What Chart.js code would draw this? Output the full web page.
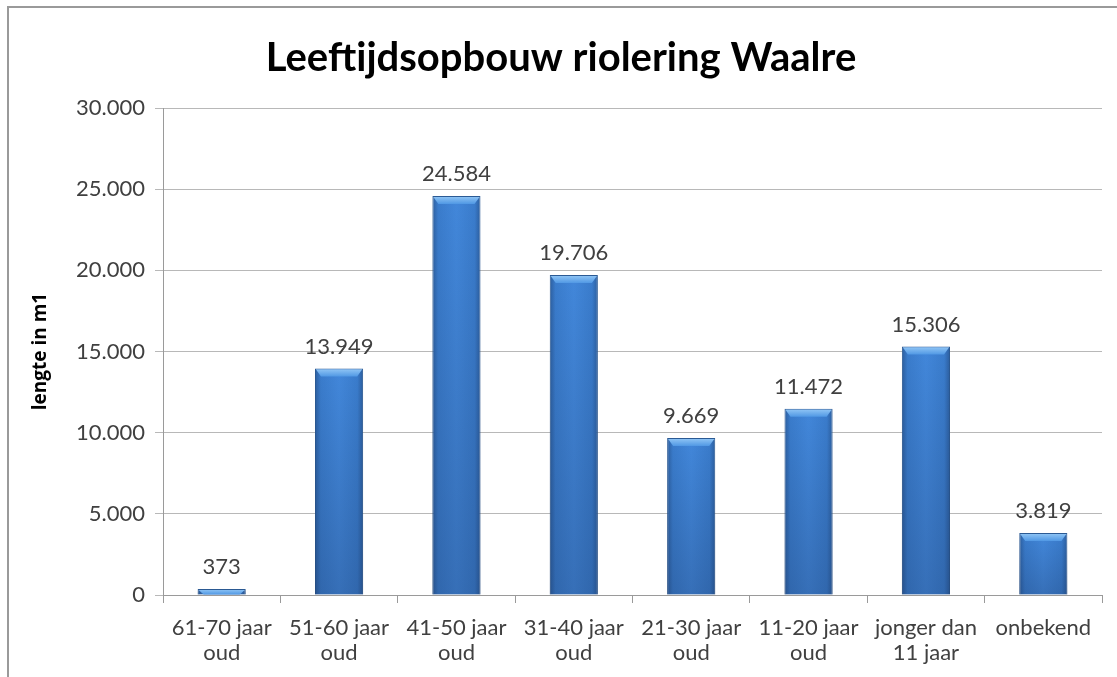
<!DOCTYPE html>
<html>
<head>
<meta charset="utf-8">
<title>Leeftijdsopbouw riolering Waalre</title>
<script src="https://cdn.jsdelivr.net/npm/chart.js@4.4.0/dist/chart.umd.min.js"></script>
<style>
  html,body{margin:0;padding:0;background:#fff;overflow:hidden;}
  #frame{position:absolute;left:7px;top:6px;width:1130px;height:690px;border-top:2px solid #9a9a9a;border-left:2px solid #9a9a9a;}
  #wrap{position:absolute;left:0;top:0;width:1117px;height:677px;}
</style>
</head>
<body>
<div id="frame"></div>
<div id="wrap"><canvas id="ageChart" width="1117" height="677"></canvas></div>
<script>
/* ========= DATA ========= */
const CATEGORIES = [
  ["61-70 jaar","oud"],
  ["51-60 jaar","oud"],
  ["41-50 jaar","oud"],
  ["31-40 jaar","oud"],
  ["21-30 jaar","oud"],
  ["11-20 jaar","oud"],
  ["jonger dan","11 jaar"],
  "onbekend"
];
const LENGTHS = [373, 13949, 24584, 19706, 9669, 11472, 15306, 3819];
const Y_TICKS = [0, 5000, 10000, 15000, 20000, 25000, 30000];

const TITLE  = "Leeftijdsopbouw riolering Waalre";
const Y_NAME = "lengte in m1";

/* ========= HELPERS ========= */
// dutch thousands separator: 13949 -> 13.949
function nl(n){ return String(n).replace(/\B(?=(\d{3})+(?!\d))/g, "."); }

const FONT = "Lato, 'Open Sans', sans-serif";

/* ========= BAR LOOK (excel style shading + value labels) ========= */
const barLook = {
  id: "barLook",
  beforeDatasetsDraw(chart){
    const ctx = chart.ctx;
    chart.getDatasetMeta(0).data.forEach(bar => {
      const {x, width} = bar.getProps(["x","width"], true);
      const g = ctx.createLinearGradient(x - width/2, 0, x + width/2, 0);
      g.addColorStop(0,    "#2c5e9e");
      g.addColorStop(0.12, "#3a7ccc");
      g.addColorStop(0.5,  "#4287da");
      g.addColorStop(0.88, "#3a7ccc");
      g.addColorStop(1,    "#2c5e9e");
      bar.options.backgroundColor = g;
    });
  },
  afterDatasetsDraw(chart){
    const ctx = chart.ctx;
    const meta = chart.getDatasetMeta(0);
    ctx.save();
    meta.data.forEach((bar, i) => {
      const {x, y, base, width} = bar.getProps(["x","y","base","width"], true);
      const l = x - width/2, r = x + width/2, h = base - y;

      // darker towards the bottom
      const v = ctx.createLinearGradient(0, y, 0, base);
      v.addColorStop(0, "rgba(20,40,80,0)");
      v.addColorStop(1, "rgba(20,40,80,0.25)");
      ctx.fillStyle = v;
      ctx.fillRect(l, y, width, h);

      // bevelled light cap
      const cap = Math.min(8, h);
      const c = ctx.createLinearGradient(0, y, 0, y + cap);
      c.addColorStop(0, "#94c8f6");
      c.addColorStop(1, "#5098e4");
      ctx.fillStyle = c;
      ctx.beginPath();
      ctx.moveTo(l + 1, y + 1);
      ctx.lineTo(r - 1, y + 1);
      ctx.lineTo(r - 1 - Math.min(5, width/4), y + cap);
      ctx.lineTo(l + 1 + Math.min(5, width/4), y + cap);
      ctx.closePath();
      ctx.fill();

      // value label
      ctx.fillStyle = "#404040";
      ctx.font = "22px " + FONT;
      ctx.textAlign = "center";
      ctx.textBaseline = "alphabetic";
      ctx.fillText(nl(LENGTHS[i]), x, y - 15);
    });
    ctx.restore();
  }
};

/* ========= CHART ========= */
new Chart(document.getElementById("ageChart"), {
  type: "bar",
  data: {
    labels: CATEGORIES,
    datasets: [{
      data: LENGTHS,
      // scriptable so every bar keeps its own options object
      backgroundColor: () => "#3a7acb",
      borderColor: "#2b5a94",
      borderWidth: 1,
      categoryPercentage: 1,
      barPercentage: 0.41
    }]
  },
  options: {
    responsive: false,
    animation: false,
    layout: { padding: { left: 20, right: 15, top: 0, bottom: 10 } },
    plugins: {
      legend: { display: false },
      tooltip: { enabled: false },
      title: {
        display: true,
        text: TITLE,
        color: "#000",
        font: { family: FONT, size: 40, weight: "bold" },
        padding: { top: 34, bottom: 26 }
      }
    },
    scales: {
      x: {
        grid: { offset: true, drawOnChartArea: false, tickLength: 8, color: "#9a9a9a" },
        border: { color: "#9a9a9a" },
        ticks: {
          color: "#404040",
          font: { family: FONT, size: 22, lineHeight: 1.15 },
          padding: 12,
          maxRotation: 0,
          autoSkip: false
        },
        afterFit: s => { s.height = 72; }
      },
      y: {
        min: Y_TICKS[0],
        max: Y_TICKS[Y_TICKS.length - 1],
        afterBuildTicks: s => { s.ticks = Y_TICKS.map(v => ({ value: v })); },
        grid: { color: "#b8b8b8", tickLength: 8 },
        border: { color: "#9a9a9a" },
        ticks: {
          color: "#404040",
          font: { family: FONT, size: 22 },
          padding: 10,
          callback: v => nl(v)
        },
        title: {
          display: true,
          text: Y_NAME,
          color: "#000",
          font: { family: "'Open Sans', sans-serif", size: 19, weight: "bold" },
          padding: { top: 9, bottom: 0 }
        },
        afterFit: s => { s.width = 143; }
      }
    }
  },
  plugins: [barLook]
});
</script>
</body>
</html>
